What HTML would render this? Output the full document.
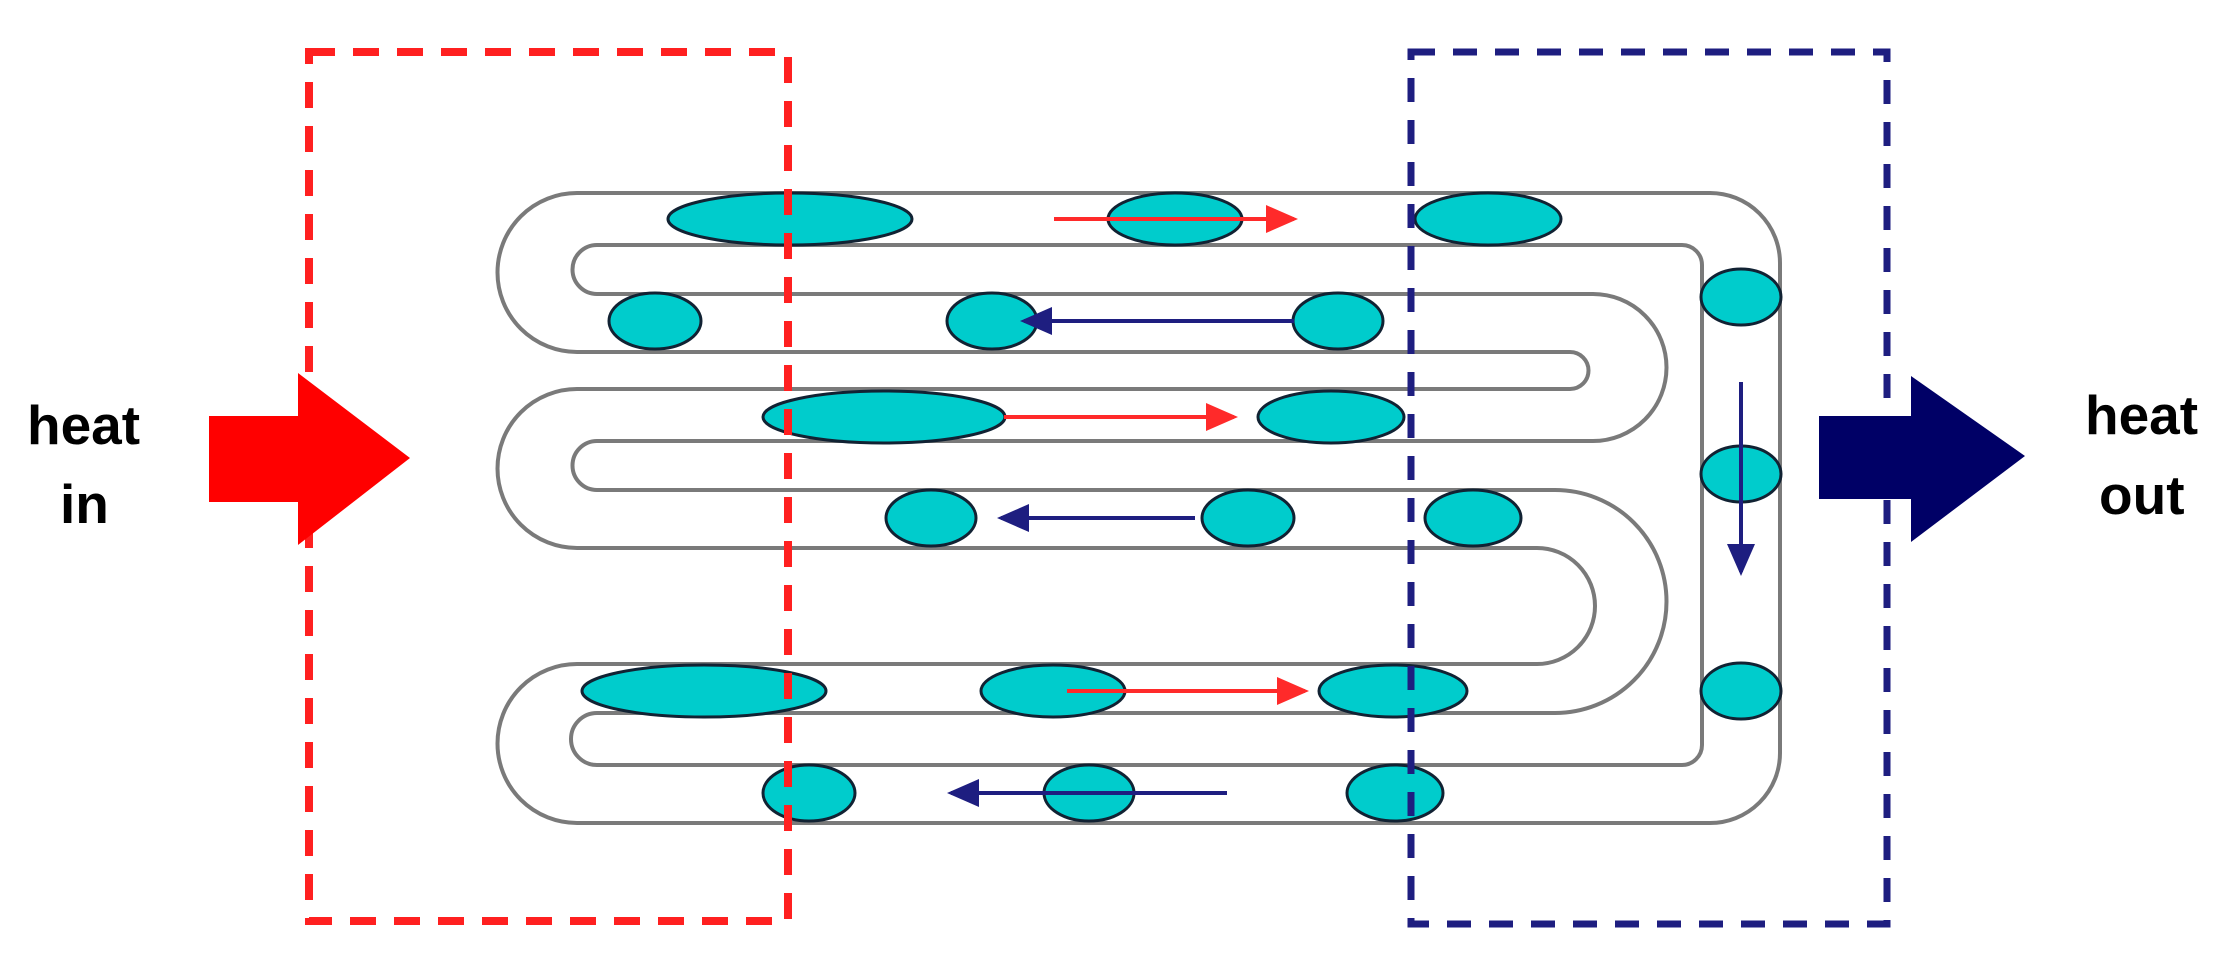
<!DOCTYPE html>
<html><head><meta charset="utf-8"><style>
html,body{margin:0;padding:0;background:#fff;}
svg{display:block;}
text{font-family:"Liberation Sans",sans-serif;font-weight:bold;font-size:55px;fill:#000;}
</style></head><body>
<svg width="2227" height="955" viewBox="0 0 2227 955" xmlns="http://www.w3.org/2000/svg">
<defs>
<marker id="rh" markerWidth="8" markerHeight="8" refX="7" refY="4" orient="auto" markerUnits="strokeWidth"><path d="M0,0.5 L8,4 L0,7.5 Z" fill="#ff2a2a"/></marker>
<marker id="bh" markerWidth="8" markerHeight="8" refX="7" refY="4" orient="auto" markerUnits="strokeWidth"><path d="M0,0.5 L8,4 L0,7.5 Z" fill="#1e1e80"/></marker>
</defs>
<!-- tube boundaries -->
<g fill="none" stroke="#7a7a7a" stroke-width="4">
<path d="M577,193 L1710,193 A70,70 0 0 1 1780,263 L1780,753 A70,70 0 0 1 1710,823 L577,823 A79.5,79.5 0 0 1 577,664 L1537,664 A58,58 0 0 0 1537,548 L577,548 A79.5,79.5 0 0 1 577,389 L1570,389 A18.5,18.5 0 0 0 1570,352 L577,352 A79.5,79.5 0 0 1 577,193 Z"/>
<path d="M597,245 L1682,245 A20,20 0 0 1 1702,265 L1702,745 A20,20 0 0 1 1682,765 L597,765 A26,26 0 0 1 597,713 L1555,713 A111.5,111.5 0 0 0 1555,490 L597,490 A24.5,24.5 0 0 1 597,441 L1593,441 A73.5,73.5 0 0 0 1593,294 L597,294 A24.5,24.5 0 0 1 597,245 Z"/>
</g>
<!-- bubbles -->
<g fill="#00cccc" stroke="#123" stroke-width="3">
<ellipse cx="790" cy="219" rx="122" ry="26"/>
<ellipse cx="1175" cy="219" rx="67" ry="26"/>
<ellipse cx="1488" cy="219" rx="73" ry="26"/>
<ellipse cx="655" cy="321" rx="46" ry="28"/>
<ellipse cx="992" cy="321" rx="45" ry="28"/>
<ellipse cx="1338" cy="321" rx="45" ry="28"/>
<ellipse cx="884" cy="417" rx="121" ry="26"/>
<ellipse cx="1331" cy="417" rx="73" ry="26"/>
<ellipse cx="931" cy="518" rx="45" ry="28"/>
<ellipse cx="1248" cy="518" rx="46" ry="28"/>
<ellipse cx="1473" cy="518" rx="48" ry="28"/>
<ellipse cx="704" cy="691" rx="122" ry="26"/>
<ellipse cx="1053" cy="691" rx="72" ry="26"/>
<ellipse cx="1393" cy="691" rx="74" ry="26"/>
<ellipse cx="809" cy="793" rx="46" ry="28"/>
<ellipse cx="1089" cy="793" rx="45" ry="28"/>
<ellipse cx="1395" cy="793" rx="48" ry="28"/>
<ellipse cx="1741" cy="297" rx="40" ry="28"/>
<ellipse cx="1741" cy="474" rx="40" ry="28"/>
<ellipse cx="1741" cy="691" rx="40" ry="28"/>
</g>
<!-- flow arrows -->
<g stroke-width="4" fill="none">
<line x1="1054" y1="219" x2="1294" y2="219" stroke="#ff2a2a" marker-end="url(#rh)"/>
<line x1="1004" y1="417" x2="1234" y2="417" stroke="#ff2a2a" marker-end="url(#rh)"/>
<line x1="1067" y1="691" x2="1305" y2="691" stroke="#ff2a2a" marker-end="url(#rh)"/>
<line x1="1294" y1="321" x2="1024" y2="321" stroke="#1e1e80" marker-end="url(#bh)"/>
<line x1="1195" y1="518" x2="1001" y2="518" stroke="#1e1e80" marker-end="url(#bh)"/>
<line x1="1227" y1="793" x2="951" y2="793" stroke="#1e1e80" marker-end="url(#bh)"/>
<line x1="1741" y1="382" x2="1741" y2="572" stroke="#1e1e80" marker-end="url(#bh)"/>
</g>
<!-- dashed boxes -->
<rect x="309" y="52" width="479" height="869" fill="none" stroke="#ff2020" stroke-width="8" stroke-dasharray="26 18"/>
<rect x="1411" y="52" width="476" height="872" fill="none" stroke="#1e1e80" stroke-width="7" stroke-dasharray="24 18"/>
<!-- big arrows -->
<polygon points="209,416 298,416 298,373 410,458 298,545 298,502 209,502" fill="#ff0000"/>
<polygon points="1819,416 1911,416 1911,376 2025,456 1911,542 1911,499 1819,499" fill="#000066"/>
<text x="27" y="444">heat</text>
<text x="60" y="523">in</text>
<text x="2085" y="434">heat</text>
<text x="2099" y="514">out</text>
</svg>
</body></html>
